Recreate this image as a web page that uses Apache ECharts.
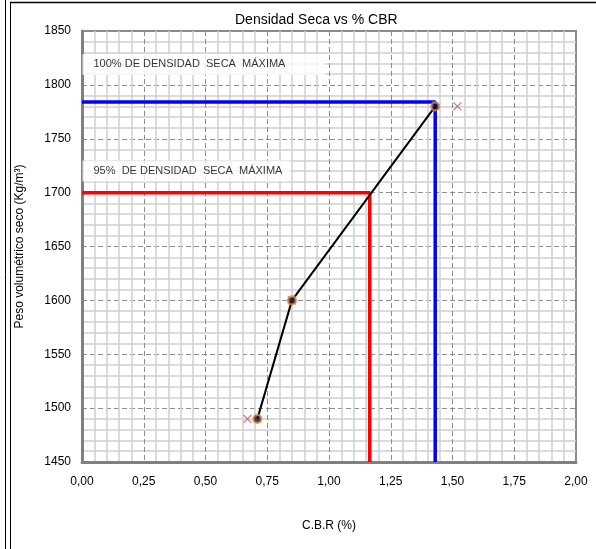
<!DOCTYPE html>
<html>
<head>
<meta charset="utf-8">
<script src="https://cdn.jsdelivr.net/npm/echarts@6/dist/echarts.min.js"></script>
<style>
  html, body { margin: 0; padding: 0; background: #fff; }
  #chart { width: 596px; height: 549px; }
</style>
</head>
<body>
<div id="chart"></div>
<script>
// Ensayo CBR: densidad seca vs C.B.R
const cbrValues = [0.71, 0.85, 1.43];
const densityValues = [1490, 1600, 1780];

// Puntos auxiliares (marcas ×)
const crossCbr = [0.67, 0.85, 1.52];
const crossDensity = [1490, 1600, 1780];

// Densidad seca máxima y 95%
const maxDensity = 1784;
const maxDensityCbr = 1.43;
const density95 = 1700;
const density95Cbr = 1.165;

const label100 = '100% DE DENSIDAD  SECA  MÁXIMA';
const label95 = '95%  DE DENSIDAD  SECA  MÁXIMA';
const label100Pos = [0, 1819];
const label95Pos = [0, 1720];

const xMin = 0, xMax = 2, xStep = 0.25;
const yMin = 1450, yMax = 1850, yStep = 50;

const font = '"Liberation Sans", Arial, sans-serif';

const curve = cbrValues.map((c, i) => [c, densityValues[i]]);
const crosses = crossCbr.map((c, i) => [c, crossDensity[i]]);

const chart = echarts.init(document.getElementById('chart'));
chart.setOption({
  animation: false,
  backgroundColor: '#fff',
  title: {
    text: 'Densidad Seca vs % CBR',
    left: 230, top: 8,
    textStyle: { fontFamily: font, fontSize: 14, fontWeight: 'normal', color: '#000' }
  },
  grid: {
    left: 82, right: 20, top: 31, bottom: 87,
    show: true, borderColor: '#8a8a8a', borderWidth: 2, backgroundColor: '#fff'
  },
  xAxis: {
    type: 'value', min: xMin, max: xMax, interval: xStep,
    name: 'C.B.R (%)', nameLocation: 'middle', nameGap: 58,
    nameTextStyle: { fontFamily: font, fontSize: 12, color: '#000' },
    axisLine: { show: true, onZero: false, lineStyle: { color: '#808080', width: 3 } },
    axisTick: { show: false },
    axisLabel: {
      margin: 14, fontFamily: font, fontSize: 12, color: '#000',
      formatter: v => v.toFixed(2).replace('.', ',')
    },
    splitLine: { show: true, lineStyle: { color: '#8c8c8c', type: [5, 3], width: 1 } },
    minorTick: { show: false, splitNumber: 5 },
    minorSplitLine: { show: true, lineStyle: { color: '#cfcfcf', width: 1.5 } }
  },
  yAxis: {
    type: 'value', min: yMin, max: yMax, interval: yStep,
    name: 'Peso volumétrico seco (Kg/m³)', nameLocation: 'middle', nameGap: 56,
    nameTextStyle: { fontFamily: font, fontSize: 12, color: '#000' },
    axisLine: { show: true, onZero: false, lineStyle: { color: '#808080', width: 3 } },
    axisTick: { show: false },
    axisLabel: { margin: 11, fontFamily: font, fontSize: 12, color: '#000', formatter: v => String(v) },
    splitLine: { show: true, lineStyle: { color: '#8c8c8c', type: [5, 3], width: 1 } },
    minorTick: { show: false, splitNumber: 5 },
    minorSplitLine: { show: true, lineStyle: { color: '#cfcfcf', width: 1.5 } }
  },
  series: [
    {
      // cuadros de texto de referencia
      type: 'scatter', symbol: 'circle', symbolSize: 1, silent: true, z: 3,
      itemStyle: { color: 'rgba(0,0,0,0)' },
      data: [
        { value: label100Pos, name: label100, label: { padding: [5, 40, 5, 11] } },
        { value: label95Pos, name: label95, label: { padding: [5, 8, 5, 11] } }
      ],
      label: {
        show: true, position: 'right', distance: 0,
        formatter: p => p.name,
        backgroundColor: '#fff',
        fontFamily: font, fontSize: 11, color: '#000'
      }
    },
    {
      type: 'line', symbol: 'none', z: 4,
      data: [[xMin, density95], [density95Cbr, density95], [density95Cbr, yMin]],
      lineStyle: { color: '#ff0000', width: 3.5 }
    },
    {
      type: 'line', symbol: 'none', z: 4,
      data: [[xMin, maxDensity], [maxDensityCbr, maxDensity], [maxDensityCbr, yMin]],
      lineStyle: { color: '#0000ff', width: 3.5 }
    },
    {
      type: 'line', symbol: 'none', z: 5,
      data: curve,
      lineStyle: { color: '#000', width: 2 }
    },
    {
      type: 'scatter', z: 6,
      data: crosses,
      symbol: 'path://M0,0L10,10M10,0L0,10', symbolSize: 8,
      itemStyle: { color: 'rgba(0,0,0,0)', borderColor: '#c0504d', borderWidth: 1.2 }
    },
    {
      type: 'scatter', z: 7,
      data: curve,
      symbol: 'circle', symbolSize: 8,
      itemStyle: { color: '#141432', borderColor: '#e08a3c', borderWidth: 2.2 }
    }
  ],
  graphic: [
    { type: 'line', shape: { x1: 10, y1: 2.5, x2: 596, y2: 2.5 }, style: { stroke: '#000', lineWidth: 1.5 } },
    { type: 'line', shape: { x1: 5.5, y1: 0, x2: 5.5, y2: 549 }, style: { stroke: '#000', lineWidth: 1 } },
    { type: 'line', shape: { x1: 10.5, y1: 2, x2: 10.5, y2: 549 }, style: { stroke: '#000', lineWidth: 1 } }
  ]
});
</script>
</body>
</html>
